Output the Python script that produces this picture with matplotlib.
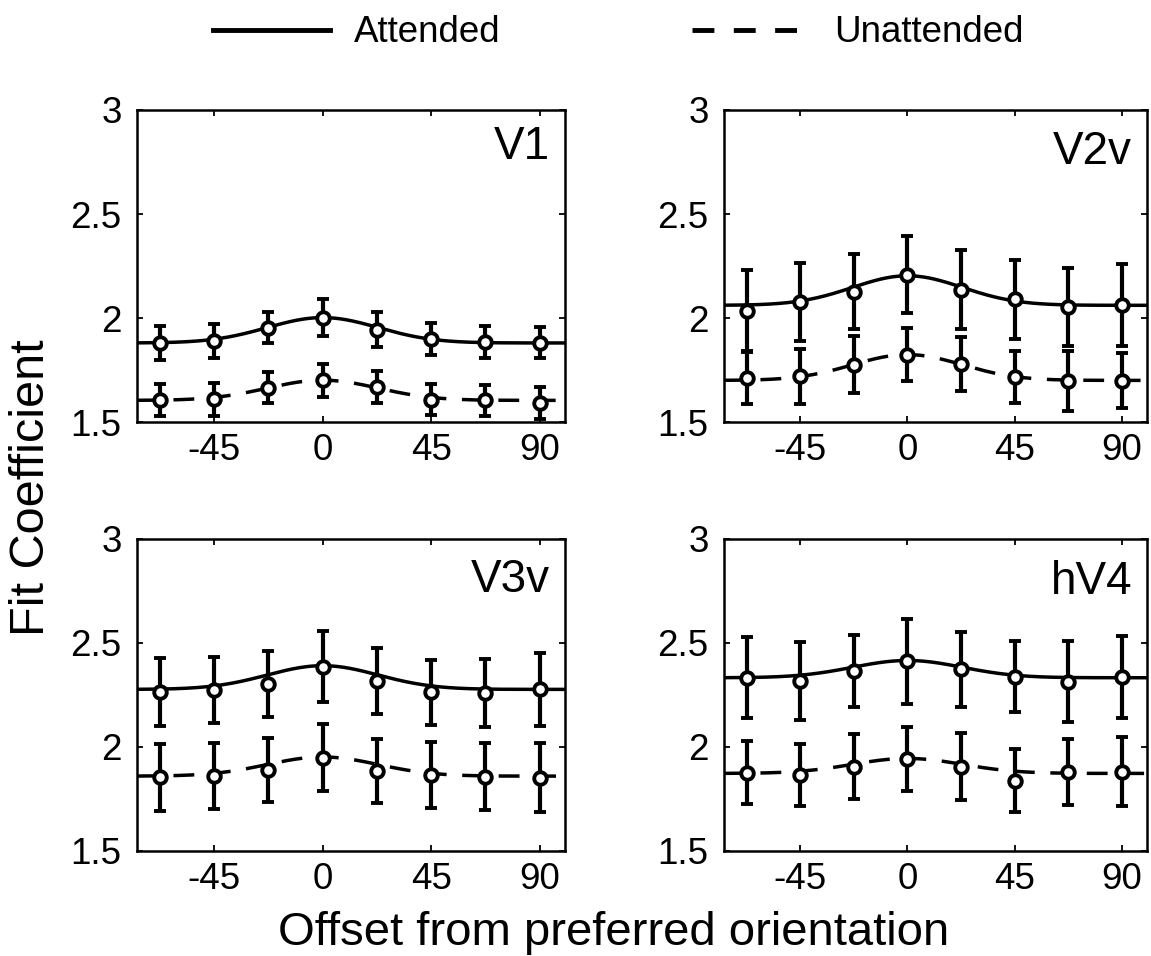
import numpy as np
import matplotlib
matplotlib.use("Agg")
import matplotlib.pyplot as plt
from matplotlib.lines import Line2D

plt.rcParams['font.family'] = ['Liberation Sans', 'DejaVu Sans']
plt.rcParams['axes.unicode_minus'] = False

# orientation offsets (deg) of the sampled points
offsets = [-67.5, -45, -22.5, 0, 22.5, 45, 67.5, 90]
areas = ['V1', 'V2v', 'V3v', 'hV4']

att_mean = {
    'V1':  [1.880, 1.890, 1.954, 2.002, 1.944, 1.899, 1.885, 1.882],
    'V2v': [2.034, 2.078, 2.126, 2.209, 2.137, 2.090, 2.053, 2.061],
    'V3v': [2.266, 2.274, 2.301, 2.386, 2.317, 2.263, 2.261, 2.277],
    'hV4': [2.333, 2.319, 2.365, 2.413, 2.373, 2.338, 2.314, 2.338],
}
att_err = {
    'V1':  [0.080, 0.080, 0.075, 0.087, 0.083, 0.079, 0.076, 0.076],
    'V2v': [0.196, 0.188, 0.181, 0.186, 0.189, 0.191, 0.188, 0.197],
    'V3v': [0.164, 0.157, 0.159, 0.171, 0.159, 0.155, 0.163, 0.174],
    'hV4': [0.195, 0.187, 0.172, 0.204, 0.182, 0.172, 0.194, 0.198],
}
unatt_mean = {
    'V1':  [1.604, 1.609, 1.664, 1.701, 1.668, 1.607, 1.604, 1.593],
    'V2v': [1.713, 1.720, 1.776, 1.824, 1.778, 1.717, 1.696, 1.698],
    'V3v': [1.854, 1.861, 1.889, 1.949, 1.885, 1.865, 1.857, 1.853],
    'hV4': [1.877, 1.865, 1.905, 1.942, 1.905, 1.838, 1.881, 1.881],
}
unatt_err = {
    'V1':  [0.077, 0.079, 0.074, 0.080, 0.075, 0.075, 0.075, 0.077],
    'V2v': [0.128, 0.132, 0.136, 0.129, 0.130, 0.124, 0.143, 0.133],
    'V3v': [0.160, 0.160, 0.152, 0.161, 0.154, 0.158, 0.160, 0.164],
    'hV4': [0.150, 0.150, 0.156, 0.152, 0.160, 0.150, 0.158, 0.167],
}

# gaussian fit parameters: (baseline, amplitude)
att_fit = {'V1': (1.880, 0.122), 'V2v': (2.061, 0.142),
           'V3v': (2.277, 0.114), 'hV4': (2.333, 0.083)}
unatt_fit = {'V1': (1.604, 0.097), 'V2v': (1.700, 0.124),
             'V3v': (1.860, 0.092), 'hV4': (1.873, 0.072)}
fit_sigma = 23.0

W, H = 1151, 956
fig = plt.figure(figsize=(W / 100, H / 100), dpi=100)

# panel boxes in pixels: left, top, right, bottom
boxes = {'V1': (137, 110, 565, 422), 'V2v': (724, 110, 1147, 422),
         'V3v': (137, 539, 565, 851), 'hV4': (724, 539, 1147, 851)}
# top of the area label, pixels below the panel top
label_drop = {'V1': 15, 'V2v': 20, 'V3v': 19, 'hV4': 21}

xlim = (-77, 100.5)
xs = np.linspace(xlim[0], xlim[1], 400)


def gauss(x, base, amp):
    return base + amp * np.exp(-x ** 2 / (2 * fit_sigma ** 2))


for name in areas:
    l, t, r, b = boxes[name]
    ax = fig.add_axes([l / W, 1 - b / H, (r - l) / W, (b - t) / H])

    ax.plot(xs, gauss(xs, *att_fit[name]), color='black', lw=2.5, zorder=2)
    ax.plot(xs, gauss(xs, *unatt_fit[name]), color='black', lw=2.5,
            dashes=(6, 4.5), zorder=2)

    for m, e in [(att_mean, att_err), (unatt_mean, unatt_err)]:
        ax.errorbar(offsets, m[name], yerr=e[name], fmt='o', color='black',
                    ecolor='black', elinewidth=3, capsize=4, capthick=3,
                    ms=9, mfc='white', mec='black', mew=2.8, zorder=3)

    ax.set_xlim(*xlim)
    ax.set_ylim(1.5, 3)
    ax.set_xticks([-45, 0, 45, 90])
    ax.set_yticks([1.5, 2, 2.5, 3])
    ax.set_yticklabels(['1.5', '2', '2.5', '3'])
    ax.tick_params(direction='in', length=4, width=1.3, top=True, right=True,
                   labelsize=26.5)
    ax.tick_params(axis='x', pad=8)
    ax.tick_params(axis='y', pad=11)
    for sp in ax.spines.values():
        sp.set_linewidth(1.8)
    ax.text(0.965, 1 - label_drop[name] / (b - t), name,
            transform=ax.transAxes, ha='right', va='top', fontsize=33)

fig.text(32 / W, 1 - 488 / H, 'Fit Coefficient', rotation=90, ha='center',
         va='center', fontsize=35)
fig.text(614 / W, 1 - 933 / H, 'Offset from preferred orientation',
         ha='center', va='center', fontsize=34)

handles = [Line2D([], [], color='black', lw=3.5),
           Line2D([], [], color='black', lw=3.5, dashes=(4.5, 4))]
fig.legend(handles, ['Attended', 'Unattended'], loc='center',
           bbox_to_anchor=(618 / W, 1 - 33 / H), ncol=2, frameon=False,
           fontsize=26.5, handlelength=3.2, handletextpad=0.65,
           columnspacing=5.2)

fig.savefig('out.png', dpi=100)
